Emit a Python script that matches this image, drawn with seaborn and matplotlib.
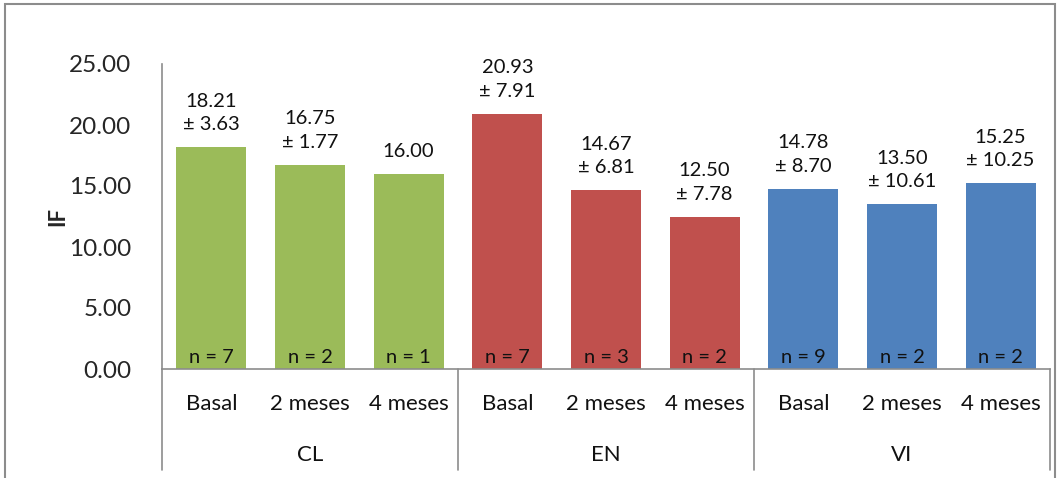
import matplotlib
matplotlib.use("Agg")
import matplotlib.pyplot as plt
import matplotlib.transforms as mtransforms
from matplotlib.patches import Rectangle
import seaborn as sns
import pandas as pd

groups = ["CL", "CL", "CL", "EN", "EN", "EN", "VI", "VI", "VI"]
periods = ["Basal", "2 meses", "4 meses"] * 3
means = [18.21, 16.75, 16.00, 20.93, 14.67, 12.50, 14.78, 13.50, 15.25]
sds = [3.63, 1.77, None, 7.91, 6.81, 7.78, 8.70, 10.61, 10.25]
ns = [7, 2, 1, 7, 3, 2, 9, 2, 2]
group_names = ["CL", "EN", "VI"]
colors = {"CL": "#9BBB59", "EN": "#C0504D", "VI": "#4F81BD"}
yticks = [0, 5, 10, 15, 20, 25]

sns.set_theme(style="white")
plt.rcParams["font.family"] = ["Lato", "DejaVu Sans"]

keys = [f"{g}_{p}" for g, p in zip(groups, periods)]
df = pd.DataFrame({"key": keys, "IF": means, "group": groups})

fig = plt.figure(figsize=(10.61, 4.78), dpi=100)
ax = fig.add_axes([162 / 1061, 1 - 369 / 478, 888 / 1061, 305 / 478])

sns.barplot(data=df, x="key", y="IF", hue="group", palette=colors, dodge=False,
            width=0.71, order=keys, ax=ax, legend=False, saturation=1,
            edgecolor="none")

ax.set_xlim(-0.5, len(keys) - 0.5)
ax.set_ylim(0, 25)
ax.set_yticks(yticks)
ax.set_yticklabels([f"{v:.2f}" for v in yticks], fontsize=17.5)
ax.tick_params(axis="y", length=0, pad=22)
ax.set_xticks([])
ax.set_xlabel("")
ax.set_ylabel("IF", fontsize=16, fontweight="bold")
ax.yaxis.set_label_coords(-0.106, 0.5)

for s in ["top", "right"]:
    ax.spines[s].set_visible(False)
ax.spines["left"].set_color("#8C8C8C")
ax.spines["bottom"].set_color("#8C8C8C")
ax.spines["left"].set_linewidth(1.2)
ax.spines["bottom"].set_linewidth(1.2)

# value labels
for i, (m, sd, n) in enumerate(zip(means, sds, ns)):
    if sd is None:
        txt = f"{m:.2f}"
    else:
        txt = f"{m:.2f}\n± {sd:.2f}"
    ax.annotate(txt, (i, m), xytext=(0, 10), textcoords="offset points",
                ha="center", va="bottom", fontsize=14.5, linespacing=1.45,
                color="#111111")
    ax.annotate(f"n = {n}", (i, 0), xytext=(0, 2.5), textcoords="offset points",
                ha="center", va="bottom", fontsize=14.5, color="#111111")

trans = mtransforms.blended_transform_factory(ax.transData, ax.transAxes)
for i, p in enumerate(periods):
    ax.text(i, -0.115, p, transform=trans, ha="center", va="center",
            fontsize=16, color="#111111")
for gi, g in enumerate(group_names):
    ax.text(gi * 3 + 1, -0.282, g, transform=trans, ha="center", va="center",
            fontsize=16, color="#111111")
for b in [-0.5, 2.5, 5.5, 8.5]:
    ax.plot([b, b], [0, -0.331], transform=trans, color="#8C8C8C", lw=1.2,
            clip_on=False)

# figure border
fig.patches.append(Rectangle((5 / 1061, -0.01), 1050 / 1061, 1 - 4 / 478 + 0.01,
                             transform=fig.transFigure, fill=False,
                             edgecolor="#8C8C8C", lw=1.5))

fig.savefig("out.png", dpi=100)
